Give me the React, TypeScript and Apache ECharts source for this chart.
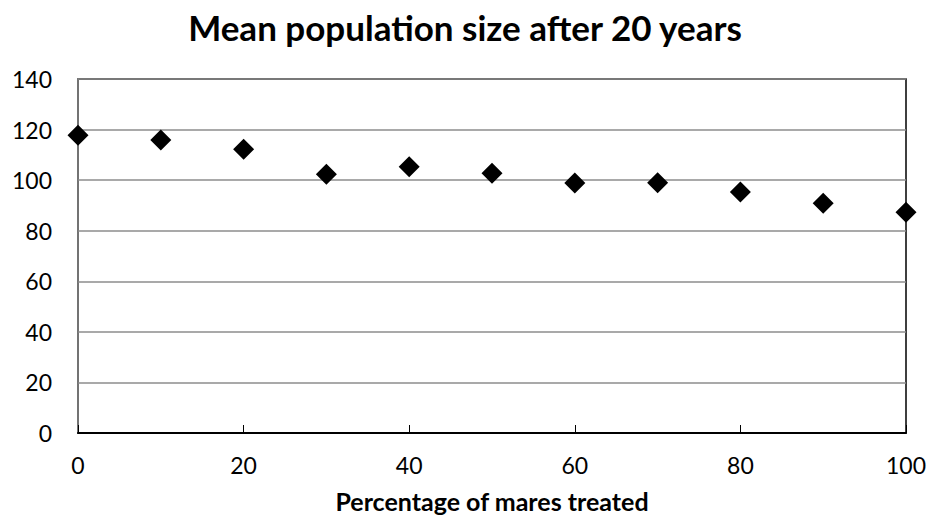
import React, { useEffect, useRef } from "react";
import * as echarts from "echarts";

const titleText = "Mean population size after 20 years";
const xAxisName = "Percentage of mares treated";
const percentTreated = [0, 10, 20, 30, 40, 50, 60, 70, 80, 90, 100];
const meanPopulation = [117.8, 115.9, 112.2, 102.3, 105.3, 102.7, 98.9, 99.0, 95.3, 90.9, 87.3];

const FONT = "Lato, 'Open Sans', sans-serif";

export default function App() {
  const ref = useRef<HTMLDivElement>(null);
  useEffect(() => {
    if (!ref.current) return;
    const chart = echarts.init(ref.current, null, { renderer: "svg" });
    chart.setOption({
      animation: false,
      backgroundColor: "#ffffff",
      title: {
        text: titleText,
        left: "center",
        top: 4,
        textStyle: { fontFamily: FONT, fontSize: 35, fontWeight: "bold", color: "#000" },
      },
      grid: {
        left: 78,
        right: 24,
        top: 79,
        bottom: 91,
        show: true,
        borderColor: "#000",
        borderWidth: 1.5,
        backgroundColor: "transparent",
      },
      xAxis: {
        type: "value",
        min: 0,
        max: 100,
        interval: 20,
        name: xAxisName,
        nameLocation: "middle",
        nameGap: 55,
        nameTextStyle: { fontFamily: FONT, fontSize: 25, fontWeight: "bold", color: "#000" },
        axisLine: { show: true, lineStyle: { color: "#000", width: 2 } },
        axisTick: { show: true, inside: true, length: 8, lineStyle: { color: "#000", width: 1 } },
        axisLabel: { fontFamily: FONT, fontSize: 23, color: "#000", margin: 20 },
        splitLine: { show: false },
      },
      yAxis: {
        type: "value",
        min: 0,
        max: 140,
        interval: 20,
        axisLine: { show: true, lineStyle: { color: "#868686", width: 1.5 } },
        axisTick: { show: false },
        axisLabel: { fontFamily: FONT, fontSize: 23, color: "#000", margin: 26 },
        splitLine: { show: true, lineStyle: { color: "#8c8c8c", width: 1.5 } },
      },
      series: [
        {
          type: "scatter",
          data: percentTreated.map((x, i) => [x, meanPopulation[i]]),
          symbol: "diamond",
          symbolSize: 21,
          itemStyle: { color: "#000", opacity: 1 },
          clip: false,
          z: 10,
        },
      ],
    });
    return () => chart.dispose();
  }, []);
  return (
    <div
      ref={ref}
      style={{ position: "absolute", left: 0, top: 0, width: 930, height: 524 }}
    />
  );
}
